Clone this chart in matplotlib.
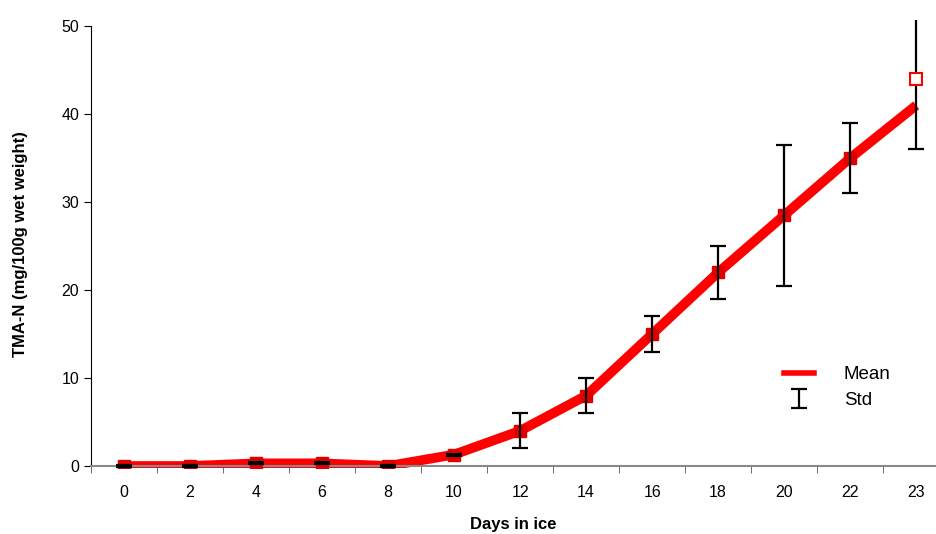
import matplotlib.pyplot as plt
from matplotlib.lines import Line2D

plt.rcParams['font.family'] = ['Liberation Sans', 'DejaVu Sans']

days = ['0', '2', '4', '6', '8', '10', '12', '14', '16', '18', '20', '22', '23']
mean_line = [0, 0, 0.3, 0.3, 0, 1.3, 4, 8, 15, 22, 28.5, 35, 41]
mean_marker = [0, 0, 0.3, 0.3, 0, 1.3, 4, 8, 15, 22, 28.5, 35, 44]
std = [0.12, 0.12, 0.12, 0.12, 0.12, 0.12, 2, 2, 2, 3, 8, 4, 8]

x = list(range(len(days)))

fig = plt.figure(figsize=(9.36, 5.34), dpi=100)
ax = fig.add_axes([0.0972, 0.1232, 0.9028, 0.8393])

# garis rata-rata
ax.plot(x, mean_line, color='#ff0000', lw=7, solid_capstyle='butt', zorder=2)
# marker kotak
ax.plot(x[:-1], mean_marker[:-1], 's', color='#e00000', ms=9, zorder=3)
ax.plot(x[-1:], mean_marker[-1:], 's', mfc='white', mec='#ff0000', mew=1.5, ms=8, zorder=5)
# error bar (terpotong di tepi atas area plot)
eb = ax.errorbar(x, mean_marker, yerr=std, fmt='none', ecolor='black', elinewidth=1.6,
                 capsize=6, capthick=1.6, zorder=4)

ax.set_xlim(-0.5, 12.3)
ax.set_ylim(-0.25, 50.7)
ax.spines['left'].set_bounds(0, 50)
ax.spines['bottom'].set_position(('data', 0))
ax.set_xticks(x)
ax.set_xticklabels(days, fontsize=11.5)
ax.set_xticks([i + 0.5 for i in range(-1, 12)], minor=True)
ax.tick_params(axis='x', which='major', length=0, pad=14)
ax.tick_params(axis='x', which='minor', length=5, direction='out', color='#555555')
ax.set_yticks([0, 10, 20, 30, 40, 50])
ax.tick_params(axis='y', labelsize=11.5, length=5, direction='out')
ax.spines['top'].set_visible(False)
ax.spines['right'].set_visible(False)
ax.spines['bottom'].set_color('#888888')
ax.spines['bottom'].set_linewidth(1.5)

ax.set_xlabel('Days in ice', fontsize=12, fontweight='bold', labelpad=12)
ax.set_ylabel('TMA-N (mg/100g wet weight)', fontsize=12, fontweight='bold', labelpad=24)

handles = [Line2D([], [], color='#ff0000', lw=4), eb]
ax.legend(handles, ['Mean', 'Std'], loc='upper left', bbox_to_anchor=(0.8, 0.265),
          frameon=False, fontsize=13.5, handlelength=1.6, handletextpad=1.6,
          labelspacing=0.45)

plt.savefig('out.png', dpi=100)
